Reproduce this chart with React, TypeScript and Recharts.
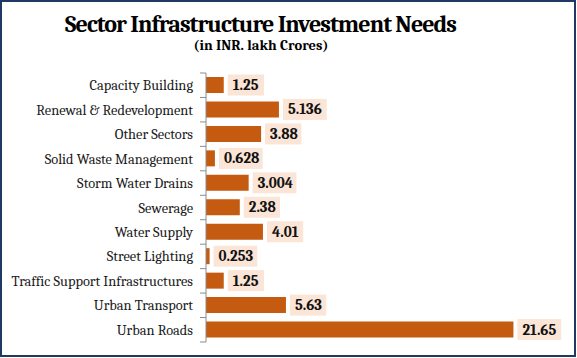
import React from 'react';
import { BarChart, Bar, XAxis, YAxis, LabelList } from 'recharts';

const categories = [
  'Capacity Building',
  'Renewal & Redevelopment',
  'Other Sectors',
  'Solid Waste Management',
  'Storm Water Drains',
  'Sewerage',
  'Water Supply',
  'Street Lighting',
  'Traffic Support Infrastructures',
  'Urban Transport',
  'Urban Roads',
];
const values = [1.25, 5.136, 3.88, 0.628, 3.004, 2.38, 4.01, 0.253, 1.25, 5.63, 21.65];
const valueLabels = ['1.25', '5.136', '3.88', '0.628', '3.004', '2.38', '4.01', '0.253', '1.25', '5.63', '21.65'];
const xDomain: [number, number] = [0, 25];
const titleText = 'Sector Infrastructure Investment Needs';
const subtitleText = '(in INR. lakh Crores)';

const data = categories.map((name, i) => ({ name, value: values[i], label: valueLabels[i] }));

const FONT = "Cambria, 'Liberation Serif', serif";
const W = 577;
const H = 358;
const M = { top: 73, right: 16, bottom: 16, left: 0 };
const BAND = (H - M.top - M.bottom) / categories.length;
const AXIS_COLOR = '#8C8C8C';

const textWidth = (s: string, fs: number) => {
  let w = 0;
  for (const c of s) w += c === '.' ? 0.25 * fs : 0.5 * fs;
  return w;
};

const CategoryTick = (props: any) => {
  const { x, y, payload, index } = props;
  const last = index === categories.length - 1;
  return (
    <g>
      <text x={x - 13} y={y} dy={5} textAnchor="end" fontFamily={FONT} fontSize={14.4} fill="#1a1a1a">
        {payload.value}
      </text>
      <line x1={x - 6} x2={x} y1={y - BAND / 2} y2={y - BAND / 2} stroke={AXIS_COLOR} strokeWidth={1} />
      {last && <line x1={x - 6} x2={x} y1={y + BAND / 2} y2={y + BAND / 2} stroke={AXIS_COLOR} strokeWidth={1} />}
    </g>
  );
};

const ValueLabel = (props: any) => {
  const { x, y, width, height, value } = props;
  const fs = 15;
  const tw = textWidth(String(value), fs);
  const bx = Number(x) + Number(width) + 4;
  const cy = Number(y) + Number(height) / 2;
  const bh = 21;
  return (
    <g>
      <rect x={bx} y={cy - bh / 2} width={tw + 10} height={bh} fill="#FBE5D6" />
      <text x={bx + 5} y={cy} dy={5} fontFamily={FONT} fontSize={fs} fontWeight="bold" fill="#111">
        {value}
      </text>
    </g>
  );
};

export default function App() {
  return (
    <div style={{ position: 'absolute', top: 0, left: 0, width: W, height: H, background: '#fff' }}>
      <div
        style={{
          position: 'absolute',
          top: 0,
          left: 0,
          width: 576,
          height: 357,
          border: '2px solid #1F3864',
          boxSizing: 'border-box',
        }}
      />
      <div style={{ position: 'absolute', top: 0, left: 0 }}>
        <BarChart width={W} height={H} layout="vertical" data={data} margin={M}>
          <XAxis type="number" domain={xDomain} hide />
          <YAxis
            type="category"
            dataKey="name"
            width={206}
            tickSize={0}
            tickMargin={0}
            tickLine={false}
            axisLine={{ stroke: AXIS_COLOR, strokeWidth: 1 }}
            tick={<CategoryTick />}
            interval={0}
          />
          <Bar dataKey="value" fill="#C55A11" barSize={16} isAnimationActive={false}>
            <LabelList dataKey="label" content={<ValueLabel />} />
          </Bar>
        </BarChart>
      </div>
      <svg width={W} height={H} style={{ position: 'absolute', top: 0, left: 0, pointerEvents: 'none' }}>
        <text x={261} y={32} textAnchor="middle" fontFamily={FONT} fontSize={24} fontWeight="bold" fill="#000" textLength={392}>
          {titleText}
        </text>
        <text x={261} y={50} textAnchor="middle" fontFamily={FONT} fontSize={14.5} fontWeight="bold" fill="#000" textLength={135}>
          {subtitleText}
        </text>
      </svg>
    </div>
  );
}
